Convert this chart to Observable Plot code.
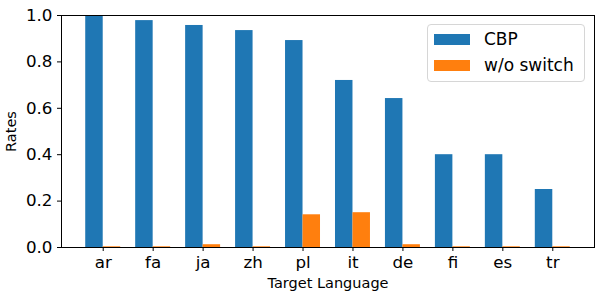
<!DOCTYPE html>
<html><head><meta charset="utf-8">
<script src="https://cdn.jsdelivr.net/npm/d3@7"></script>
<script src="https://cdn.jsdelivr.net/npm/@observablehq/plot@0.6"></script>
<style>
body{margin:0;background:#fff;}
#wrap{position:relative;width:597px;height:294px;font-family:"DejaVu Sans",sans-serif;}
#legend{position:absolute;left:427px;top:24px;width:158px;height:58px;border:1px solid #d6d6d6;border-radius:4px;background:rgba(255,255,255,0.8);box-sizing:border-box;}
.item{position:absolute;left:6px;height:20px;display:flex;align-items:center;font-size:17px;color:#000;white-space:nowrap;}
.sw{width:36px;height:11px;margin-right:14px;}
g[aria-label="x-axis label"] text, g[aria-label="y-axis label"] text{font-size:14.5px;}
</style></head><body><div id="wrap"></div>
<script>
const languages = ["ar","fa","ja","zh","pl","it","de","fi","es","tr"];
const seriesNames = ["CBP","w/o switch"];
const cbp = [1.0, 0.978, 0.957, 0.935, 0.892, 0.72, 0.642, 0.40, 0.40, 0.25];
const woSwitch = [0.003, 0.003, 0.012, 0.003, 0.141, 0.15, 0.012, 0.003, 0.003, 0.003];
const yTicks = [0, 0.2, 0.4, 0.6, 0.8, 1.0];
const colors = ["#1f77b4","#ff7f0e"];
const barWidth = 0.35;

const data = [];
languages.forEach((lang, i) => {
  data.push({lang, i, series: seriesNames[0], value: cbp[i]});
  data.push({lang, i, series: seriesNames[1], value: woSwitch[i]});
});

const chart = Plot.plot({
  width: 597, height: 294,
  marginLeft: 61, marginRight: 3, marginTop: 15, marginBottom: 47,
  style: {fontFamily: "DejaVu Sans", fontSize: "16.7px", background: "white", color: "black"},
  x: {domain: [-0.835, languages.length - 1 + 0.835]},
  y: {domain: [0, 1]},
  color: {domain: seriesNames, range: colors},
  marks: [
    Plot.rectY(data, {
      x1: d => d.i + (d.series === seriesNames[0] ? -barWidth : 0),
      x2: d => d.i + (d.series === seriesNames[0] ? 0 : barWidth),
      y1: 0, y2: "value", fill: "series"
    }),
    Plot.axisX({ticks: languages.map((_, i) => i), tickFormat: i => languages[i], tickSize: 4, tickPadding: 5,
      label: "Target Language", labelAnchor: "center", labelOffset: 40, labelArrow: "none"}),
    Plot.axisY({ticks: yTicks, tickFormat: d3.format(".1f"), tickSize: 4, tickPadding: 5,
      label: "Rates", labelAnchor: "center", labelOffset: 56, labelArrow: "none"}),
    Plot.frame({stroke: "black", strokeWidth: 1})
  ]
});
const wrap = document.getElementById("wrap");
wrap.appendChild(chart);
const legend = document.createElement("div");
legend.id = "legend";
seriesNames.forEach((name, k) => {
  const it = document.createElement("div");
  it.className = "item";
  it.style.top = (k === 0 ? 4 : 30) + "px";
  const sw = document.createElement("div");
  sw.className = "sw"; sw.style.background = colors[k];
  const t = document.createElement("span"); t.textContent = name;
  it.appendChild(sw); it.appendChild(t);
  legend.appendChild(it);
});
wrap.appendChild(legend);
</script></body></html>
